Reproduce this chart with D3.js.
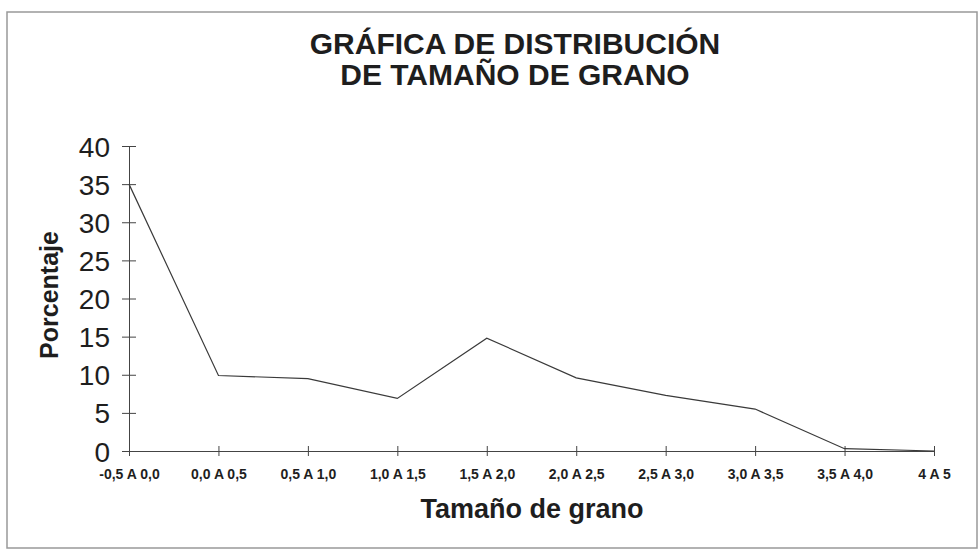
<!DOCTYPE html>
<html>
<head>
<meta charset="utf-8">
<script src="https://cdn.jsdelivr.net/npm/d3@7"></script>
<style>
  body { margin: 0; background: #fff; }
  text { font-family: "Liberation Sans", Arial, sans-serif; fill: #1e1e1e; }
</style>
</head>
<body>
<div id="chart"></div>
<script>
// grain size classes and percentages
var categories = ["-0,5 A 0,0", "0,0 A 0,5", "0,5 A 1,0", "1,0 A 1,5", "1,5 A 2,0",
                  "2,0 A 2,5", "2,5 A 3,0", "3,0 A 3,5", "3,5 A 4,0", "4 A 5"];
var percentages = [35, 9.9, 9.5, 6.9, 14.8, 9.6, 7.3, 5.5, 0.3, 0];
var yTicks = [0, 5, 10, 15, 20, 25, 30, 35, 40];

var W = 979, H = 550;
var margin = {top: 146, right: 45, bottom: 99, left: 129};

var svg = d3.select("#chart").append("svg")
    .attr("width", W)
    .attr("height", H);

// outer frame
svg.append("rect")
    .attr("x", 7).attr("y", 12)
    .attr("width", 970).attr("height", 536)
    .attr("fill", "none")
    .attr("stroke", "#999")
    .attr("stroke-width", 1.5);

var x = d3.scalePoint().domain(categories).range([margin.left, W - margin.right]);
var y = d3.scaleLinear().domain([0, 40]).range([H - margin.bottom, margin.top]);

// title
var title = svg.append("text")
    .attr("text-anchor", "middle")
    .attr("font-weight", "bold")
    .attr("font-size", 30);
title.append("tspan").attr("x", 515).attr("y", 54).text("GRÁFICA DE DISTRIBUCIÓN");
title.append("tspan").attr("x", 515).attr("y", 85).text("DE TAMAÑO DE GRANO");

// y axis
var yAxis = svg.append("g")
    .attr("transform", "translate(" + margin.left + ",0)")
    .call(d3.axisLeft(y).tickValues(yTicks).tickSize(7));
yAxis.select(".domain").attr("stroke", "#444");
yAxis.selectAll(".tick line").attr("x1", -7).attr("x2", 7).attr("stroke", "#444");
yAxis.selectAll(".tick text")
    .attr("font-size", 28)
    .attr("font-family", "Liberation Sans, Arial, sans-serif")
    .attr("fill", "#1e1e1e")
    .attr("x", -19)
    .attr("dy", "0.36em");

// x axis
var xAxis = svg.append("g")
    .attr("transform", "translate(0," + y(0) + ")")
    .call(d3.axisBottom(x).tickSize(5).tickSizeOuter(0));
xAxis.select(".domain").attr("stroke", "#444");
xAxis.selectAll(".tick line").attr("y1", -5).attr("y2", 5).attr("stroke", "#444");
xAxis.selectAll(".tick text")
    .attr("font-size", 14)
    .attr("font-weight", "bold")
    .attr("font-family", "Liberation Sans, Arial, sans-serif")
    .attr("fill", "#1e1e1e")
    .attr("y", 28)
    .attr("dy", 0);

// line
var line = d3.line()
    .x(function(d, i) { return x(categories[i]); })
    .y(function(d) { return y(d); });

svg.append("path")
    .datum(percentages)
    .attr("d", line)
    .attr("fill", "none")
    .attr("stroke", "#3a3a3a")
    .attr("stroke-width", 1.2);

// axis titles
svg.append("text")
    .attr("x", 532).attr("y", 518)
    .attr("text-anchor", "middle")
    .attr("font-weight", "bold")
    .attr("font-size", 27)
    .text("Tamaño de grano");

svg.append("text")
    .attr("transform", "translate(58,295) rotate(-90)")
    .attr("text-anchor", "middle")
    .attr("font-weight", "bold")
    .attr("font-size", 25)
    .text("Porcentaje");
</script>
</body>
</html>
